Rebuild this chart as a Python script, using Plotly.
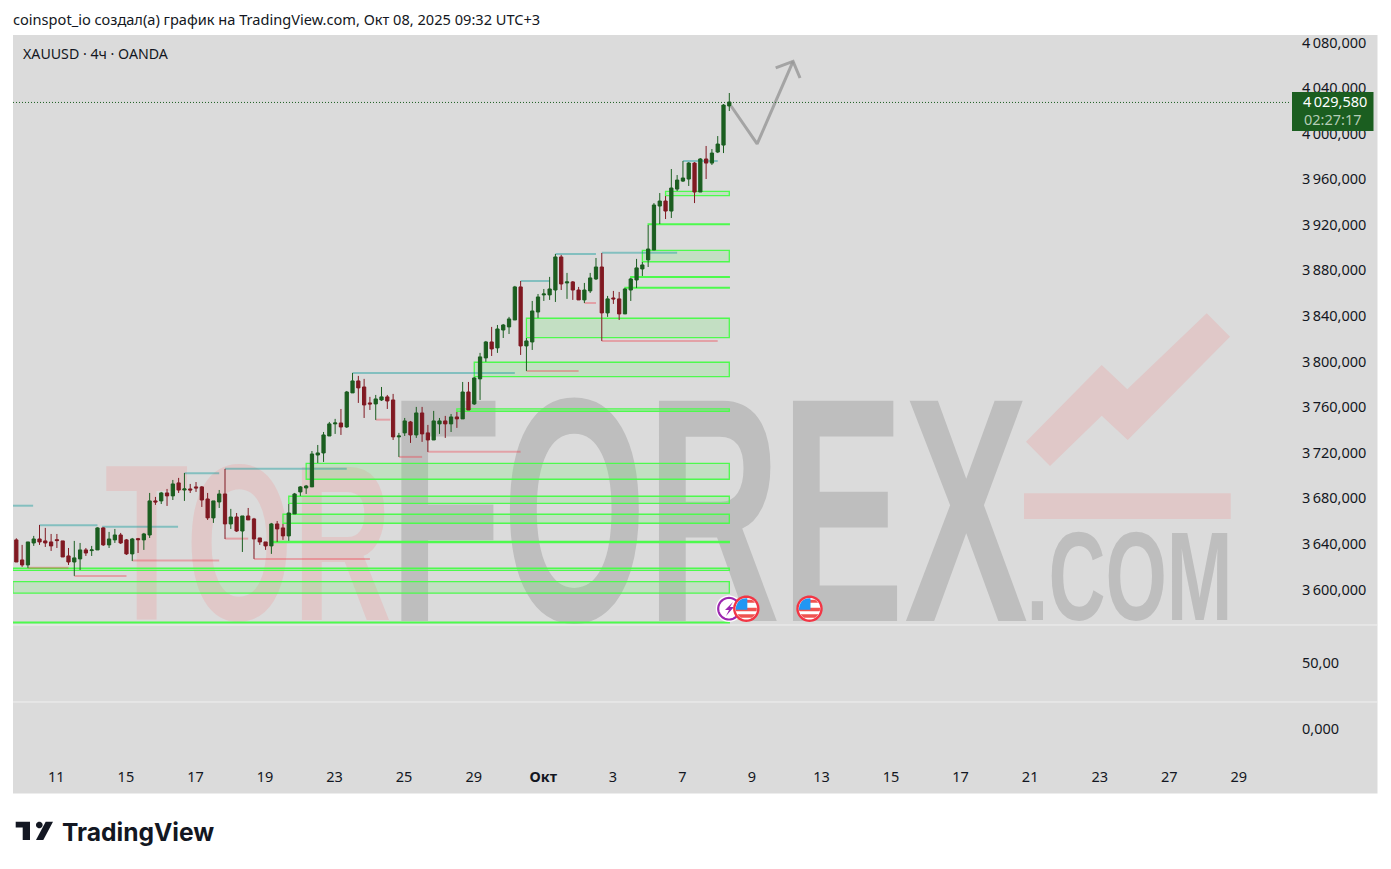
import math
import plotly.graph_objects as go

W, H = 1391, 869

# one candle per value, prices
opens = [3643.5, 3625.9, 3621.5, 3640.8, 3644.3, 3642.6, 3641.7, 3643.7, 3642.6, 3629.4, 3624.1, 3626.8, 3634.7, 3634.1, 3634.7, 3654.0,
         3639.1, 3643.5, 3647.8, 3643.5, 3631.2, 3644.6, 3643.5, 3647.8, 3677.7, 3677.7, 3684.7, 3682.1, 3693.5, 3687.3, 3688.2, 3690.0,
         3690.0, 3679.4, 3662.8, 3676.8, 3683.8, 3657.5, 3663.6, 3651.3, 3664.5, 3661.9, 3645.2, 3641.7, 3638.2, 3657.5, 3654.0, 3647.0,
         3666.3, 3685.6, 3689.1, 3690.0, 3718.0, 3719.8, 3734.7, 3745.3, 3746.1, 3742.6, 3772.5, 3783.0, 3777.7, 3763.7, 3762.8, 3766.3,
         3769.0, 3766.3, 3733.9, 3737.4, 3747.0, 3735.6, 3754.9, 3737.4, 3731.2, 3745.3, 3747.9, 3745.3, 3751.4, 3749.7, 3773.3, 3762.8,
         3784.8, 3803.2, 3817.2, 3812.0, 3827.7, 3830.4, 3836.5, 3865.5, 3813.7, 3817.2, 3843.5, 3858.5, 3858.5, 3862.8, 3891.8, 3869.0,
         3869.9, 3862.8, 3854.1, 3862.0, 3872.5, 3883.0, 3842.7, 3855.8, 3855.0, 3841.8, 3862.8, 3871.6, 3881.3, 3889.2, 3897.9, 3936.5,
         3940.9, 3932.1, 3951.4, 3958.4, 3960.2, 3974.2, 3948.8, 3977.8, 3974.2, 3983.9, 3990.0, 4024.3]
highs = [3644.9, 3639.1, 3641.7, 3647.0, 3656.6, 3654.0, 3648.7, 3648.7, 3642.6, 3636.4, 3642.6, 3640.8, 3636.4, 3638.2, 3654.6, 3654.6,
         3650.5, 3653.1, 3649.6, 3644.3, 3645.2, 3645.2, 3649.6, 3684.7, 3681.2, 3685.6, 3688.2, 3696.1, 3697.9, 3702.2, 3692.6, 3694.3,
         3690.8, 3684.7, 3677.7, 3687.3, 3705.8, 3670.7, 3667.1, 3664.5, 3671.5, 3662.8, 3645.2, 3641.7, 3658.4, 3660.1, 3657.5, 3675.0,
         3684.7, 3690.8, 3691.7, 3721.5, 3726.8, 3738.2, 3747.0, 3749.7, 3758.4, 3774.2, 3790.0, 3787.4, 3784.8, 3769.0, 3770.7, 3777.7,
         3770.7, 3771.6, 3737.4, 3750.5, 3747.9, 3760.2, 3760.2, 3744.4, 3756.7, 3750.5, 3752.3, 3754.0, 3755.8, 3782.1, 3782.1, 3786.5,
         3807.6, 3818.1, 3830.4, 3832.1, 3833.0, 3839.2, 3866.4, 3870.7, 3820.7, 3853.2, 3859.3, 3863.7, 3874.3, 3894.4, 3893.6, 3877.8,
         3870.7, 3865.5, 3869.0, 3877.8, 3890.9, 3895.3, 3857.6, 3862.0, 3861.1, 3864.6, 3873.4, 3890.1, 3887.4, 3919.8, 3939.1, 3947.9,
         3945.3, 3969.0, 3963.7, 3976.0, 3975.1, 3975.1, 3978.6, 3989.2, 3986.5, 3997.9, 4026.0, 4035.7]
lows = [3624.1, 3619.8, 3618.9, 3638.2, 3639.1, 3637.3, 3633.8, 3636.4, 3628.5, 3621.5, 3611.9, 3617.1, 3629.4, 3629.4, 3634.7, 3638.2,
        3636.4, 3640.8, 3639.9, 3630.3, 3625.0, 3632.0, 3634.7, 3645.2, 3674.2, 3675.0, 3673.3, 3678.5, 3684.7, 3677.7, 3684.7, 3685.6,
        3672.4, 3661.0, 3658.4, 3671.5, 3644.3, 3653.1, 3650.5, 3632.9, 3661.0, 3626.8, 3639.1, 3634.7, 3631.2, 3641.7, 3643.5, 3642.6,
        3666.3, 3682.1, 3683.8, 3690.0, 3711.0, 3711.9, 3734.7, 3736.5, 3735.6, 3741.8, 3772.5, 3763.7, 3750.5, 3757.5, 3748.8, 3765.4,
        3758.4, 3731.2, 3716.3, 3734.7, 3728.6, 3733.0, 3729.5, 3720.7, 3731.2, 3736.5, 3733.0, 3738.2, 3741.8, 3749.7, 3757.5, 3761.9,
        3766.3, 3799.7, 3804.9, 3807.6, 3820.7, 3824.2, 3836.5, 3805.8, 3791.8, 3810.2, 3838.3, 3853.2, 3854.1, 3852.3, 3862.8, 3855.0,
        3854.1, 3854.1, 3851.4, 3860.2, 3871.6, 3818.1, 3839.2, 3850.6, 3836.5, 3841.8, 3853.2, 3864.6, 3875.1, 3883.0, 3897.9, 3920.7,
        3925.1, 3926.0, 3949.7, 3957.6, 3954.1, 3939.1, 3948.8, 3960.2, 3972.5, 3983.0, 3983.0, 4019.9]
closes = [3624.1, 3621.5, 3641.7, 3644.3, 3641.7, 3640.8, 3638.2, 3642.9, 3628.5, 3624.1, 3627.7, 3634.7, 3632.0, 3634.7, 3654.0, 3639.1,
          3644.3, 3647.8, 3640.8, 3631.2, 3644.3, 3643.7, 3648.7, 3677.7, 3676.8, 3684.7, 3682.1, 3692.6, 3687.3, 3688.2, 3687.3, 3689.1,
          3678.5, 3662.8, 3677.7, 3683.8, 3657.5, 3663.6, 3651.3, 3664.5, 3661.0, 3644.3, 3641.7, 3638.2, 3657.5, 3653.1, 3647.0, 3667.1,
          3683.8, 3690.0, 3690.8, 3718.9, 3719.8, 3735.6, 3745.3, 3746.1, 3742.6, 3773.3, 3783.0, 3776.9, 3761.9, 3762.8, 3767.2, 3769.0,
          3765.4, 3733.9, 3734.7, 3747.9, 3735.6, 3754.9, 3736.5, 3731.2, 3747.9, 3747.9, 3745.3, 3751.4, 3749.7, 3773.3, 3757.5, 3785.6,
          3804.1, 3817.2, 3811.1, 3828.6, 3832.1, 3837.4, 3865.5, 3813.7, 3818.1, 3844.4, 3856.7, 3859.3, 3863.7, 3891.8, 3868.1, 3869.9,
          3862.8, 3854.1, 3862.8, 3873.4, 3883.0, 3842.7, 3855.0, 3855.0, 3841.8, 3863.7, 3872.5, 3882.2, 3884.8, 3898.8, 3937.4, 3940.9,
          3932.1, 3952.3, 3959.3, 3961.1, 3974.2, 3948.8, 3977.8, 3974.2, 3983.0, 3990.9, 4025.1, 4027.8]
bars = list(range(len(opens)))
# level of the dotted line as it reads against the axis labels
last_price = 4027.4

price_ticks = [4080, 4040, 4000, 3960, 3920, 3880, 3840, 3800, 3760, 3720, 3680, 3640, 3600]
price_labels = ["4\u2009080,000", "4\u2009040,000", "4\u2009000,000", "3\u2009960,000", "3\u2009920,000", "3\u2009880,000", "3\u2009840,000",
                "3\u2009800,000", "3\u2009760,000", "3\u2009720,000", "3\u2009680,000", "3\u2009640,000", "3\u2009600,000"]
time_ticks = [6.9, 18.9, 30.9, 42.9, 54.9, 66.9, 78.9, 90.9, 102.9, 114.9, 126.9, 138.9, 150.9, 162.9, 174.9, 186.9, 198.9, 210.9]
time_labels = ["11", "15", "17", "19", "23", "25", "29", "<b>Окт</b>", "3", "7", "9", "13", "15", "17", "21", "23", "27", "29"]

# supply/demand zones: first bar, low, high (all run to the last bar)
zone_start = [-0.6, -0.6, -0.6, 50, 47, 46, 44, 76, 79, 88, 105, 106, 108, 109, 112]
zone_low = [3570.6, 3596.7, 3616.8, 3696.7, 3675.6, 3658.1, 3641.2, 3756.4, 3786.7, 3821.0, 3864.5, 3873.8, 3887.6, 3920.2, 3945.6]
zone_high = [3571.2, 3606.8, 3618.6, 3710.7, 3681.8, 3666.0, 3642.2, 3758.4, 3799.4, 3838.0, 3865.1, 3874.6, 3897.6, 3920.8, 3949.4]

teal_start = [-0.6, 4, 14.8, 29, 36, 58, 87, 93, 101, 115]
teal_end = [2.9, 14, 27.9, 35, 57, 86, 92, 100, 114, 121]
teal_price = [3673.5, 3656.3, 3655.1, 3702.0, 3706.0, 3790.0, 3870.7, 3894.4, 3895.5, 3976.0]

red_start = [2, 10, 20, 36, 41, 62, 66, 71, 88, 98, 101]
red_end = [9, 19, 35, 40, 61, 64.5, 70, 87, 97, 100, 121]
red_price = [3619.1, 3611.8, 3625.3, 3644.6, 3626.8, 3749.0, 3716.3, 3720.9, 3791.7, 3851.4, 3818.1]

arrow_x = [123.3, 127.8, 134.0]
arrow_y = [4024.3, 3991.0, 4063.5]
head_x = [131.0, 134.0, 135.2]
head_y = [4057.7, 4063.5, 4048.9]


def px(x):
    return x / W


def py(y):
    return 1 - y / H


def poly(points):
    return "M" + "L".join(f"{px(x):.5f},{py(y):.5f}" for x, y in points) + "Z"


def disc(cx, cy, r, color, width=0, line="rgba(0,0,0,0)"):
    pts = [(cx + r * math.cos(a * math.pi / 24), cy + r * math.sin(a * math.pi / 24)) for a in range(48)]
    return dict(type="path", xref="paper", yref="paper", path=poly(pts), fillcolor=color, line=dict(color=line, width=width), layer="above")


def chord(cx, cy, r, y0, y1, color):
    ys = [y0 + (y1 - y0) * i / 6 for i in range(7)]
    left = [(cx - math.sqrt(max(r * r - (y - cy) ** 2, 0)), y) for y in ys]
    right = [(cx + math.sqrt(max(r * r - (y - cy) ** 2, 0)), y) for y in reversed(ys)]
    return dict(type="path", xref="paper", yref="paper", path=poly(left + right), fillcolor=color, line=dict(width=0), layer="above")


def flag(cx, cy):
    out = [disc(cx, cy, 13.2, "#f23645"), disc(cx, cy, 10.8, "#ffffff")]
    out.append(chord(cx, cy, 10.5, cy - 1, cy + 2.5, "#ef5350"))
    out.append(chord(cx, cy, 10.5, cy + 5.5, cy + 9, "#ef5350"))
    out.append(chord(cx, cy, 10.5, cy - 9, cy - 6, "#ef5350"))
    canton = [(cx + 10.5 * math.cos(a * math.pi / 12) * 1.0, cy + 10.5 * math.sin(a * math.pi / 12)) for a in range(12, 19)]
    canton += [(cx + 1, cy - 10.5), (cx + 1, cy + 1), (cx - 10.5, cy + 1)]
    out.append(dict(type="path", xref="paper", yref="paper", path=poly(canton), fillcolor="#2196f3", line=dict(width=0), layer="above"))
    return out


fig = go.Figure()

fig.add_trace(go.Candlestick(
    x=bars, open=opens, high=highs, low=lows, close=closes,
    increasing=dict(line=dict(color="#1b5e20", width=1), fillcolor="#1b5e20"),
    decreasing=dict(line=dict(color="#801922", width=1), fillcolor="#801922"),
    whiskerwidth=0, showlegend=False, hoverinfo="skip",
))
arrow_line = dict(color="rgba(150,150,150,0.8)", width=3)
fig.add_trace(go.Scatter(x=arrow_x, y=arrow_y, mode="lines", line=arrow_line, showlegend=False, hoverinfo="skip"))
fig.add_trace(go.Scatter(x=head_x, y=head_y, mode="lines", line=arrow_line, showlegend=False, hoverinfo="skip"))
# empty panes under the price pane
fig.add_trace(go.Scatter(x=[], y=[], yaxis="y2", showlegend=False))
fig.add_trace(go.Scatter(x=[], y=[], yaxis="y3", showlegend=False))

shapes = []
shapes.append(dict(type="rect", xref="paper", yref="paper", x0=px(13), x1=px(1377.5), y0=py(793.5), y1=py(35),
                   fillcolor="#dbdbdb", line=dict(width=0), layer="below"))
for y in [625, 702]:
    shapes.append(dict(type="line", xref="paper", yref="paper", x0=px(13), x1=px(1377.5), y0=py(y), y1=py(y),
                       line=dict(color="#f0f0f0", width=1), layer="below"))

# logo mark of the watermark
shapes.append(dict(type="path", xref="paper", yref="paper", layer="below", fillcolor="#e0c8c8", line=dict(width=0),
                   path=poly([(1026, 441.7), (1101.7, 365), (1127.3, 389.3), (1206.7, 313.3), (1230, 336.7),
                              (1127.7, 440), (1101.7, 415.7), (1050, 466)])))
shapes.append(dict(type="rect", xref="paper", yref="paper", layer="below", fillcolor="#e0c8c8", line=dict(width=0),
                   x0=px(1024), x1=px(1230.7), y0=py(519), y1=py(493.3)))

for s, lo, hi in zip(zone_start, zone_low, zone_high):
    shapes.append(dict(type="rect", xref="x", yref="y", x0=s, x1=123, y0=lo, y1=hi, layer="below",
                       fillcolor="rgba(100,240,100,0.2)", line=dict(color="#4dfa4d", width=1.3)))
for s, e, p in zip(teal_start, teal_end, teal_price):
    shapes.append(dict(type="line", xref="x", yref="y", x0=s, x1=e, y0=p, y1=p, layer="below",
                       line=dict(color="rgba(0,150,150,0.4)", width=2)))
for s, e, p in zip(red_start, red_end, red_price):
    shapes.append(dict(type="line", xref="x", yref="y", x0=s, x1=e, y0=p, y1=p, layer="below",
                       line=dict(color="rgba(242,54,69,0.35)", width=2)))

# last price line and label
shapes.append(dict(type="line", xref="paper", yref="y", x0=px(13), x1=px(1291), y0=last_price, y1=last_price,
                   line=dict(color="#1b5e20", width=1, dash="1px,2px")))
shapes.append(dict(type="rect", xref="paper", yref="paper", x0=px(1292), x1=px(1373.5), y0=py(131), y1=py(92),
                   fillcolor="#1b5e20", line=dict(width=0), layer="above"))

# event badges
shapes.append(disc(729, 608.7, 13.2, "#ffffff"))
shapes.append(disc(729, 608.7, 10.8, "#ffffff", 2.2, "#9c27b0"))
shapes.append(dict(type="path", xref="paper", yref="paper", layer="above", fillcolor="#9c27b0", line=dict(width=0),
                   path=poly([(733, 602), (725, 610), (729, 610), (726, 616), (734, 607), (730, 607)])))
shapes += flag(746.3, 608.7)
shapes += flag(809.5, 608.7)

# TradingView mark
shapes.append(dict(type="path", xref="paper", yref="paper", layer="above", fillcolor="#131722", line=dict(width=0),
                   path=poly([(15.7, 821.7), (30, 821.7), (30, 840), (22.7, 840), (22.7, 827.5), (15.7, 827.5)])))
shapes.append(disc(39.3, 825, 3.3, "#131722"))
shapes.append(dict(type="path", xref="paper", yref="paper", layer="above", fillcolor="#131722", line=dict(width=0),
                   path=poly([(45.7, 821.7), (53, 821.7), (43.3, 840), (36, 840)])))

text_font = "Noto Sans"
ink = "#131722"


def label(x, y, text, size=14, color=ink, anchor="left", family=text_font):
    return dict(xref="paper", yref="paper", x=px(x), y=py(y), text=text, showarrow=False, xanchor=anchor, yanchor="middle",
                font=dict(family=family, size=size, color=color), borderpad=0, borderwidth=0)


annotations = [
    # watermark letters, squeezed to width in the post script below
    label(248, 543, "<b>TOR</b>", 222, "#e0c8c8", "center", "Liberation Sans"),
    label(708.5, 510, "<b>FOREX</b>", 320, "#bebebe", "center", "Liberation Sans"),
    label(1129.5, 576, "<b>.COM</b>", 126, "#bebebe", "center", "Liberation Sans"),
    label(13, 19, "coinspot_io создал(а) график на TradingView.com, Окт 08, 2025 09:32 UTC+3", 14.6),
    label(23, 54, "XAUUSD · 4ч · OANDA", 14.2),
    label(1367, 101, "4\u2009029,580", 14.5, "#ffffff", "right"),
    label(1362, 119, "02:27:17", 14.5, "#b5cdb7", "right"),
    label(62, 832, "<b>TradingView</b>", 24.6, ink, "left", "Inter"),
]

axis_font = dict(family=text_font, size=14.5, color=ink)
fig.update_layout(
    width=W, height=H, margin=dict(l=0, r=0, t=0, b=0),
    paper_bgcolor="#ffffff", plot_bgcolor="rgba(0,0,0,0)",
    shapes=shapes, annotations=annotations, showlegend=False,
    boxgap=0.2,
    xaxis=dict(domain=[px(13), px(1291)], range=[-0.574, 219.9], anchor="y3", rangeslider=dict(visible=False), automargin=False,
               tickmode="array", tickvals=time_ticks, ticktext=time_labels, showgrid=False, zeroline=False, showline=False,
               ticks="", tickfont=axis_font, ticklabelstandoff=6),
    yaxis=dict(domain=[py(625), py(35)], range=[3568.8, 4086.6], side="right", anchor="x", tickmode="array", automargin=False,
               tickvals=price_ticks, ticktext=price_labels, showgrid=False, zeroline=False, ticks="", tickfont=axis_font,
               ticklabelstandoff=10),
    yaxis2=dict(domain=[py(702), py(625)], range=[0, 100], side="right", anchor="x", tickmode="array", tickvals=[51], automargin=False,
                ticktext=["50,00"], showgrid=False, zeroline=False, ticks="", tickfont=axis_font, ticklabelstandoff=10),
    yaxis3=dict(domain=[py(760), py(702)], range=[-31, 27], side="right", anchor="x", tickmode="array", tickvals=[0], automargin=False,
                ticktext=["0,000"], showgrid=False, zeroline=False, ticks="", tickfont=axis_font, ticklabelstandoff=10),
)

post_script = """
document.body.style.margin = '0';
var widths = {'TOR': 287, 'FOREX': 640, '.COM': 206};
var below = document.querySelector('.layer-below');
document.querySelectorAll('.annotation').forEach(function (a) {
    var t = a.querySelector('text');
    var w = widths[t.textContent];
    if (w) {
        t.style.transformBox = 'fill-box';
        t.style.transformOrigin = 'center';
        t.style.transform = 'scaleX(' + (w / t.getBBox().width) + ')';
        var bg = a.querySelector('rect');
        if (bg) { bg.remove(); }
        below.appendChild(a);
    }
});
"""

fig.write_html("out.html", post_script=post_script, config={"displayModeBar": False})
